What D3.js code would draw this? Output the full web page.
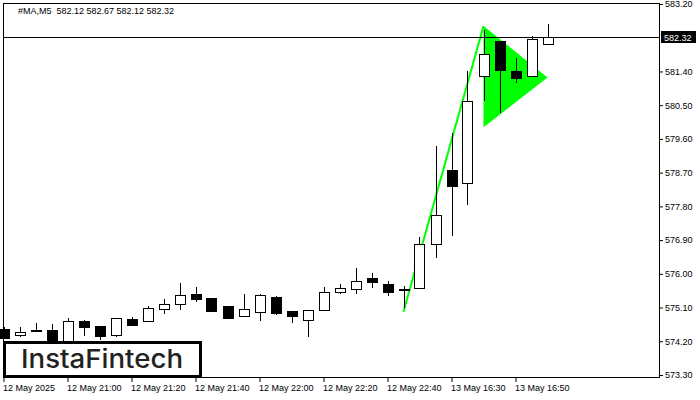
<!DOCTYPE html>
<html><head><meta charset="utf-8">
<script src="https://cdn.jsdelivr.net/npm/d3@7"></script>
<style>
html,body{margin:0;padding:0;background:#fff;}
svg{display:block;}
.ax text{font-family:"Liberation Sans",Arial,sans-serif;font-size:9px;fill:#000;}
</style></head>
<body>
<svg id="c" width="700" height="400"></svg>
<script>
// ---- data ----
const times = ["12 May 20:40","12 May 20:45","12 May 20:50","12 May 20:55","12 May 21:00","12 May 21:05","12 May 21:10","12 May 21:15",
 "12 May 21:20","12 May 21:25","12 May 21:30","12 May 21:35","12 May 21:40","12 May 21:45","12 May 21:50","12 May 21:55",
 "12 May 22:00","12 May 22:05","12 May 22:10","12 May 22:15","12 May 22:20","12 May 22:25","12 May 22:30","12 May 22:35",
 "12 May 22:40","12 May 22:45","12 May 22:50","12 May 22:55","13 May 16:30","13 May 16:35","13 May 16:40","13 May 16:45",
 "13 May 16:50","13 May 16:55","13 May 17:00"];
const open  = [574.53,574.37,574.49,574.50,574.22,574.74,574.61,574.36,574.79,574.75,575.05,575.19,575.46,575.35,575.14,574.87,
 574.97,575.38,575.01,574.76,575.04,575.51,575.59,575.89,575.73,575.58,575.61,576.79,578.77,578.42,581.29,582.20,581.41,581.27,582.12];
const high  = [574.58,574.58,574.69,574.66,574.82,574.76,574.62,574.83,574.85,575.14,575.33,575.76,575.65,575.36,575.15,575.46,
 575.46,575.41,575.02,575.04,575.65,575.74,576.15,576.01,575.81,575.67,576.97,579.41,579.75,581.41,582.51,582.21,581.75,582.35,582.67];
const low   = [574.26,574.31,574.45,574.18,574.18,574.35,574.23,574.31,574.62,574.74,574.94,575.04,575.25,575.01,574.80,574.86,
 574.73,574.91,574.70,574.32,575.03,575.47,575.47,575.63,575.42,575.09,575.60,576.43,577.02,577.84,580.62,580.30,581.10,581.26,582.12];
const close = [574.29,574.45,574.51,574.23,574.74,574.57,574.35,574.82,574.64,575.08,575.20,575.43,575.32,575.02,574.83,575.05,
 575.44,574.96,574.88,575.03,575.51,575.61,575.80,575.79,575.52,575.59,576.80,577.56,578.35,580.60,581.86,581.45,581.23,582.26,582.32];
const yTicks = [583.20,581.40,580.50,579.60,578.70,577.80,576.90,576.00,575.10,574.20,573.30];
const xTickIdx = [0,4,8,12,16,20,24,28,32];
const xTickLabels = ["12 May 2025","12 May 21:00","12 May 21:20","12 May 21:40","12 May 22:00","12 May 22:20","12 May 22:40","13 May 16:30","13 May 16:50"];
const lastPrice = 582.32;
const header = "#MA,M5  582.12 582.67 582.12 582.32";
// pennant pattern: pole and flag triangle (candle index, price)
const poleIdx = [25,30], polePrice = [574.99,582.61];
const flagIdx = [30,30,34], flagPrice = [582.61,579.91,581.24];

// ---- layout ----
const svg = d3.select("#c");
const L=3, R=660, T=3, B=378;
const x = d3.scaleLinear().domain([0,34]).range([3.5,547.5]);
const y = d3.scaleLinear().domain([573.3,583.2]).range([375,4]);
const green = "#00ff00";

// frame
svg.append("rect").attr("x",L+0.5).attr("y",T+0.5).attr("width",R-L-1).attr("height",B-T-1)
  .attr("fill","#fff").attr("stroke","#000").attr("stroke-width",1);

const plot = svg.append("g");

// flag triangle
plot.append("polygon")
  .attr("points", flagIdx.map((d,i)=>[x(d),y(flagPrice[i])].join(",")).join(" "))
  .attr("fill",green);
// pole
plot.append("line")
  .attr("x1",x(poleIdx[0])).attr("y1",y(polePrice[0]))
  .attr("x2",x(poleIdx[1])).attr("y2",y(polePrice[1]))
  .attr("stroke",green).attr("stroke-width",2);

// candles
const bw = 10;
const idx = d3.range(times.length);
const cg = plot.selectAll("g.cdl").data(idx).enter().append("g").attr("class","cdl");
cg.append("line")
  .attr("x1",i=>Math.round(x(i))+0.5).attr("x2",i=>Math.round(x(i))+0.5)
  .attr("y1",i=>Math.round(y(high[i]))).attr("y2",i=>Math.round(y(low[i])))
  .attr("stroke","#000").attr("stroke-width",1);
cg.append("rect")
  .attr("x",i=>Math.round(x(i))-bw/2+0.5)
  .attr("y",i=>Math.round(y(Math.max(open[i],close[i])))+0.5)
  .attr("width",bw)
  .attr("height",i=>Math.max(1,Math.round(y(Math.min(open[i],close[i])))-Math.round(y(Math.max(open[i],close[i])))))
  .attr("fill",i=>close[i]>=open[i]?"#fff":"#000")
  .attr("stroke","#000").attr("stroke-width",1);

// last price line
plot.append("line").attr("x1",L).attr("x2",R)
  .attr("y1",Math.round(y(lastPrice))+0.5).attr("y2",Math.round(y(lastPrice))+0.5)
  .attr("stroke","#000").attr("stroke-width",1);

// y axis
const ya = svg.append("g").attr("class","ax").attr("transform",`translate(${R},0)`)
  .call(d3.axisRight(y).tickValues(yTicks).tickFormat(d3.format(".2f")).tickSize(3).tickPadding(2));
ya.select(".domain").remove();
ya.selectAll(".tick line").attr("stroke","#000");

// price label
const ly = Math.round(y(lastPrice));
svg.append("rect").attr("x",R+1).attr("y",ly-6).attr("width",35).attr("height",12).attr("fill","#000");
svg.append("text").attr("x",R+4).attr("y",ly+3.5).text(lastPrice.toFixed(2))
  .attr("fill","#fff").style("font-family","Liberation Sans, Arial, sans-serif").style("font-size","9px");

// x axis
const xa = svg.append("g").attr("class","ax").attr("transform",`translate(0,${B})`)
  .call(d3.axisBottom(x).tickValues(xTickIdx).tickFormat((d,i)=>xTickLabels[i]).tickSize(4).tickPadding(3));
xa.select(".domain").remove();
xa.selectAll(".tick line").attr("stroke","#000");
xa.selectAll(".tick text").attr("text-anchor","start").attr("dx","-1");

// header
svg.append("text").attr("x",18).attr("y",14).text(header)
  .style("font-family","Liberation Sans, Arial, sans-serif").style("font-size","9px").attr("fill","#000")
  .attr("xml:space","preserve").style("white-space","pre");

// logo
svg.append("rect").attr("x",4.5).attr("y",342.5).attr("width",196).attr("height",34)
  .attr("fill","#fff").attr("stroke","#000").attr("stroke-width",3);
svg.append("text").attr("x",21).attr("y",368).text("InstaFintech")
  .attr("textLength",162).attr("lengthAdjust","spacingAndGlyphs")
  .style("font-family","Inter, 'Noto Sans', sans-serif").style("font-weight","500").style("font-size","26px")
  .attr("fill","#222");
</script>
</body></html>
